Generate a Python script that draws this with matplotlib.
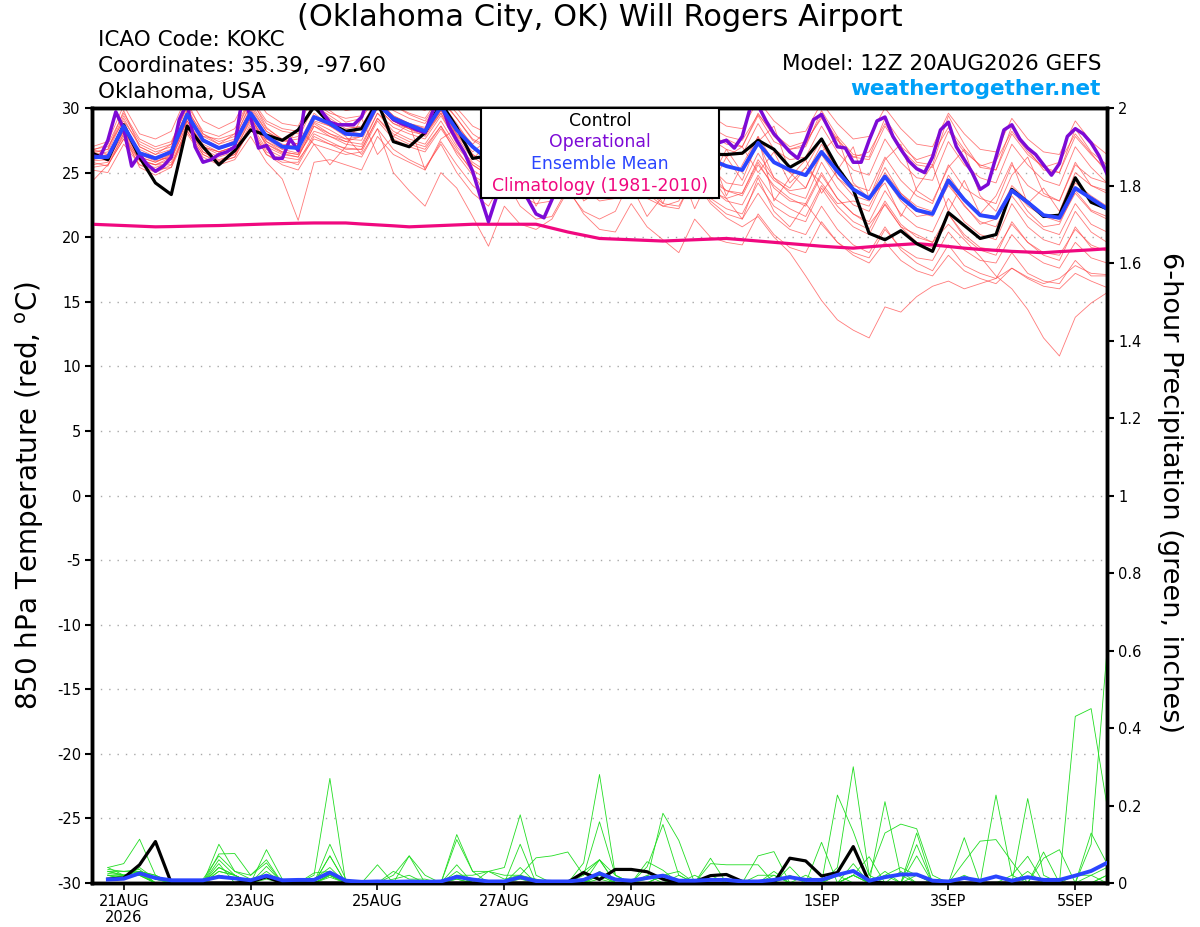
import numpy as np
import pandas as pd
import matplotlib
matplotlib.use("Agg")
import matplotlib.pyplot as plt
from matplotlib.patches import Rectangle

# ---------------- data ----------------
start = "2026-08-20 12:00"
n6 = 65
n3 = 129

tick_dates = ["2026-08-21", "2026-08-23", "2026-08-25", "2026-08-27",
              "2026-08-29", "2026-09-01", "2026-09-03", "2026-09-05"]
tick_labels = ["21AUG\n2026", "23AUG", "25AUG", "27AUG", "29AUG", "1SEP", "3SEP", "5SEP"]
temp_ticks = [-30, -25, -20, -15, -10, -5, 0, 5, 10, 15, 20, 25, 30]
precip_ticks = [0, 0.2, 0.4, 0.6, 0.8, 1.0, 1.2, 1.4, 1.6, 1.8, 2.0]
precip_tick_labels = ["0", "0.2", "0.4", "0.6", "0.8", "1", "1.2", "1.4", "1.6", "1.8", "2"]

control_temp = [26.5, 26.0, 28.7, 26.2, 24.2, 23.3, 28.6, 27.0, 25.6, 26.7, 28.3, 27.9,
                27.5, 28.3, 30.1, 28.8, 28.2, 28.4, 30.5, 27.4, 27.0, 28.1, 30.4, 28.5,
                26.1, 26.3, 27.0, 27.5, 26.8, 26.0, 27.2, 28.0, 27.1, 26.5, 27.6, 28.2,
                27.3, 26.8, 26.5, 26.4, 26.4, 26.5, 27.5, 26.8, 25.4, 26.1, 27.6, 25.4,
                23.7, 20.3, 19.8, 20.5, 19.5, 18.9, 21.9, 20.9, 19.9, 20.2, 23.7, 22.7,
                21.6, 21.7, 24.6, 22.7, 22.2]

mean_temp = [26.2, 26.2, 28.6, 26.5, 26.1, 26.6, 29.5, 27.5, 26.9, 27.3, 29.6, 27.8,
             27.0, 26.9, 29.3, 28.8, 28.0, 27.9, 30.3, 29.2, 28.7, 28.2, 30.1, 28.3,
             27.0, 26.0, 27.2, 25.9, 25.3, 25.6, 27.0, 25.8, 25.2, 25.5, 26.8, 25.7,
             25.4, 25.6, 26.9, 26.0, 25.5, 25.2, 27.3, 25.8, 25.2, 24.8, 26.6, 25.1,
             23.7, 23.0, 24.7, 23.1, 22.1, 21.8, 24.4, 22.9, 21.7, 21.5, 23.6, 22.7,
             21.7, 21.5, 23.8, 23.0, 22.2]

oper_temp = [26.3, 26.2, 27.5, 29.7, 28.4, 25.5, 26.4, 25.6, 25.1, 25.5, 26.2, 29.1,
             30.4, 27.0, 25.8, 26.0, 26.4, 26.6, 27.0, 31.0, 29.3, 26.9, 27.1, 26.1,
             26.1, 27.6, 26.7, 31.0, 31.5, 29.7, 28.9, 28.7, 28.7, 28.7, 29.3, 31.0,
             31.5, 29.8, 29.1, 28.8, 28.6, 28.3, 28.1, 29.8, 30.5, 28.6, 27.5, 26.5,
             25.1, 23.1, 21.2, 23.1, 24.8, 25.5, 24.0, 22.9, 21.8, 21.5, 22.9,
             24.5, 25.8, 27.0, 27.6, 26.8, 26.2, 25.8, 26.4, 27.8, 28.6, 28.0, 27.2,
             26.6, 26.2, 26.8, 28.0, 28.8, 28.2, 27.6, 27.2,
             27.3, 27.5, 26.9, 27.8, 30.0, 30.2, 29.0, 28.0, 27.3, 26.6, 26.1, 27.5,
             29.1, 29.5, 28.3, 27.0, 26.9, 25.8, 25.8, 27.5, 29.0, 29.3, 27.8, 26.8,
             25.9, 25.3, 25.0, 26.2, 28.3, 28.9, 27.0, 26.0, 25.0, 23.7, 24.1, 26.2,
             28.3, 28.7, 27.6, 26.9, 26.4, 25.6, 24.8, 25.7, 27.8, 28.4, 28.0, 27.3,
             26.3, 24.9]

clim_temp = [21.0, 20.95, 20.9, 20.85, 20.8, 20.82, 20.85, 20.88, 20.9, 20.94, 20.98, 21.02,
             21.05, 21.08, 21.1, 21.1, 21.1, 21.02, 20.95, 20.88, 20.8, 20.85, 20.9, 20.95,
             21.0, 21.0, 21.0, 21.0, 21.0, 20.7, 20.4, 20.15, 19.9, 19.85, 19.8, 19.75,
             19.7, 19.75, 19.8, 19.85, 19.9, 19.8, 19.7, 19.6, 19.5, 19.4, 19.3, 19.22,
             19.15, 19.25, 19.35, 19.42, 19.5, 19.4, 19.28, 19.15, 19.05, 18.98, 18.9, 18.85,
             18.8, 18.88, 18.95, 19.02, 19.1]

temp_m01 = [26.5, 26.8, 29.8, 27.0, 26.4, 27.2, 30.5, 28.0, 27.2, 28.0, 30.8, 28.5, 27.5, 27.8, 30.6, 29.8,
            28.9, 29.2, 31.0, 30.2, 29.5, 29.0, 30.8, 29.2, 27.5, 26.8, 28.5, 27.0, 26.2, 26.5, 29.0, 27.4,
            26.8, 27.5, 29.6, 28.0, 27.2, 27.8, 30.2, 28.5, 27.8, 27.5, 29.5, 28.0, 27.0, 27.4, 29.2, 27.5,
            26.2, 26.6, 28.8, 27.0, 26.0, 26.4, 28.5, 26.8, 25.5, 25.9, 28.2, 26.6, 25.4, 25.8, 28.0, 26.5, 25.0]
temp_m02 = [25.8, 25.5, 28.0, 25.9, 25.6, 26.0, 28.8, 27.0, 26.4, 26.8, 29.0, 27.2, 26.5, 26.2, 28.6, 27.8,
            27.2, 27.0, 29.6, 28.5, 28.0, 27.6, 29.4, 27.4, 25.6, 24.8, 27.0, 25.2, 24.2, 24.6, 27.4, 25.6,
            24.8, 25.2, 27.8, 25.8, 24.6, 24.9, 27.5, 25.4, 24.2, 24.0, 26.5, 24.6, 23.4, 23.0, 25.8, 23.8,
            22.5, 22.0, 24.6, 22.8, 21.6, 21.8, 24.0, 22.5, 21.0, 21.4, 23.8, 22.0, 20.8, 21.0, 23.6, 22.1, 21.6]
temp_m03 = [26.0, 26.4, 28.4, 26.2, 25.8, 26.3, 29.0, 27.2, 26.6, 27.0, 29.4, 27.6, 26.8, 26.5, 28.9, 28.3,
            27.6, 27.5, 30.0, 28.8, 28.2, 27.9, 29.8, 27.9, 26.4, 25.6, 27.8, 25.9, 25.0, 25.2, 27.9, 26.0,
            25.2, 25.0, 27.2, 25.4, 24.5, 24.0, 26.4, 24.8, 23.6, 23.2, 25.6, 24.0, 23.0, 22.4, 24.8, 23.0,
            21.8, 21.0, 22.5, 20.8, 20.2, 19.6, 21.0, 19.8, 18.5, 17.0, 16.0, 14.4, 12.2, 10.8, 13.8, 14.9, 15.7]
temp_m04 = [26.3, 25.9, 28.2, 26.8, 26.2, 26.0, 29.2, 27.4, 26.9, 27.5, 29.9, 27.9, 27.2, 27.0, 29.0, 28.6,
            28.1, 28.3, 30.6, 29.4, 28.8, 28.5, 30.4, 28.8, 27.0, 26.2, 28.2, 26.2, 25.4, 25.8, 27.0, 25.0,
            24.2, 23.8, 26.0, 24.2, 23.2, 23.0, 24.4, 22.6, 21.5, 20.8, 21.6, 20.0, 18.8, 17.0, 15.1, 13.6,
            12.8, 12.2, 14.6, 14.2, 15.4, 16.2, 16.6, 16.0, 16.4, 16.8, 17.6, 16.9, 16.4, 16.8, 17.8, 17.2, 17.1]
temp_m05 = [25.2, 25.0, 27.2, 25.6, 25.4, 25.8, 28.4, 26.6, 25.9, 26.4, 28.8, 26.8, 26.2, 26.0, 27.6, 27.2,
            26.9, 26.8, 29.2, 28.0, 27.4, 27.0, 28.6, 26.8, 25.0, 23.0, 26.8, 25.2, 22.4, 24.6, 26.2, 22.8,
            23.6, 25.8, 24.0, 21.6, 23.2, 25.4, 22.2, 24.8, 23.0, 21.4, 24.6, 22.0, 20.8, 22.6, 21.0, 19.6,
            18.6, 18.0, 19.6, 18.2, 17.4, 17.0, 18.6, 17.4, 16.8, 16.4, 17.6, 16.8, 16.2, 16.0, 17.2, 16.6, 16.1]
temp_m06 = [24.3, 25.6, 27.6, 25.9, 25.2, 25.4, 28.0, 26.2, 25.6, 26.0, 27.8, 25.8, 24.5, 21.3, 25.8, 26.0,
            25.6, 25.2, 27.8, 26.4, 25.8, 25.2, 27.4, 25.6, 24.0, 23.0, 25.0, 23.2, 22.6, 22.8, 25.2, 23.6,
            23.0, 23.4, 26.0, 24.2, 23.6, 23.2, 25.6, 23.8, 22.8, 22.5, 24.8, 23.0, 22.2, 21.6, 24.0, 22.4,
            21.2, 20.6, 22.8, 21.0, 20.0, 19.6, 21.8, 20.2, 19.2, 19.0, 21.0, 19.6, 18.8, 18.6, 20.6, 19.4, 18.9]
temp_m07 = [26.8, 27.0, 29.0, 27.2, 26.6, 27.0, 29.8, 28.0, 27.4, 27.8, 30.2, 28.2, 27.5, 27.2, 29.6, 28.6,
            27.8, 26.4, 28.4, 25.0, 23.6, 22.4, 25.0, 23.8, 21.6, 19.3, 22.4, 21.0, 20.6, 21.4, 23.6, 22.0,
            21.4, 22.0, 24.6, 23.0, 22.4, 22.8, 25.2, 23.6, 23.0, 23.4, 26.0, 24.4, 23.6, 23.8, 26.4, 24.6,
            23.2, 22.8, 25.0, 23.4, 22.4, 22.0, 24.2, 22.8, 21.8, 21.6, 23.8, 22.4, 21.6, 21.2, 23.4, 22.0, 21.4]
temp_m08 = [27.0, 27.4, 30.2, 28.0, 27.6, 28.2, 31.0, 29.0, 28.4, 29.0, 31.4, 29.6, 28.8, 28.6, 31.0, 30.4,
            29.8, 30.0, 31.6, 30.8, 30.2, 29.8, 31.4, 30.0, 28.6, 28.0, 30.2, 28.2, 27.6, 28.0, 30.4, 28.8,
            28.0, 28.4, 30.8, 29.2, 28.4, 28.6, 31.0, 29.4, 28.6, 28.4, 30.6, 29.0, 28.0, 28.2, 30.4, 28.8,
            27.6, 27.8, 30.0, 28.4, 27.2, 27.0, 29.6, 28.0, 26.8, 26.6, 29.2, 27.6, 26.6, 26.4, 29.0, 27.4, 26.4]
temp_m09 = [26.0, 26.2, 28.8, 26.4, 26.0, 26.4, 29.4, 27.4, 26.8, 27.2, 29.8, 27.6, 27.0, 26.8, 29.4, 28.8,
            28.2, 28.0, 30.4, 29.2, 28.6, 28.2, 30.0, 28.0, 26.6, 27.6, 25.0, 26.4, 28.6, 24.4, 25.8, 27.0,
            24.2, 26.8, 28.2, 25.0, 24.6, 27.4, 26.0, 23.8, 26.2, 27.0, 25.0, 26.6, 24.2, 25.4, 27.6, 24.6,
            23.6, 23.0, 25.4, 23.4, 22.2, 21.8, 24.8, 23.0, 21.8, 21.4, 24.0, 22.8, 21.6, 21.4, 24.2, 23.2, 22.4]
temp_m10 = [26.6, 26.0, 28.0, 25.4, 24.8, 25.4, 28.6, 26.8, 26.2, 26.6, 29.2, 27.4, 26.6, 26.4, 28.2, 27.8,
            27.4, 27.8, 30.2, 29.0, 28.4, 28.0, 29.6, 27.2, 25.8, 25.0, 27.2, 24.8, 23.8, 24.4, 26.8, 24.6,
            23.8, 24.2, 26.8, 24.8, 22.6, 25.8, 24.0, 26.6, 23.2, 25.6, 27.8, 22.8, 24.6, 26.0, 23.4, 25.2,
            27.0, 23.0, 24.2, 21.6, 23.8, 25.6, 22.0, 24.4, 21.8, 23.2, 25.8, 22.6, 23.8, 22.0, 25.0, 24.0, 23.4]
temp_m11 = [26.4, 26.6, 29.2, 27.0, 26.4, 26.8, 29.6, 27.6, 27.0, 27.4, 30.0, 28.2, 27.4, 27.6, 30.2, 29.2,
            28.4, 28.6, 30.8, 29.8, 29.2, 28.8, 30.6, 29.2, 27.6, 27.0, 29.2, 27.4, 26.6, 27.0, 29.4, 27.6,
            26.8, 27.0, 29.6, 27.8, 26.8, 27.0, 29.8, 28.0, 27.2, 27.0, 29.6, 27.8, 26.8, 27.2, 29.4, 27.6,
            26.2, 26.0, 28.6, 26.8, 25.6, 25.4, 28.2, 26.6, 25.6, 25.2, 28.0, 26.4, 25.4, 25.0, 27.8, 26.4, 25.2]
temp_m12 = [25.6, 25.8, 27.8, 26.0, 25.6, 25.6, 28.2, 26.4, 25.8, 26.2, 28.6, 26.6, 26.0, 25.6, 27.8, 27.2,
            26.6, 26.2, 28.4, 26.8, 26.0, 25.4, 27.2, 25.0, 23.4, 22.4, 24.6, 22.4, 21.4, 21.6, 23.8, 21.8,
            20.6, 20.4, 22.6, 20.8, 19.8, 18.8, 21.4, 20.0, 19.6, 19.4, 21.8, 20.2, 19.2, 18.8, 21.2, 19.6,
            18.8, 18.4, 20.6, 19.2, 18.4, 18.2, 20.4, 19.0, 18.2, 18.0, 20.2, 18.8, 18.0, 17.6, 19.6, 18.4, 18.0]
temp_m13 = [26.2, 26.4, 28.6, 26.6, 26.2, 26.6, 29.0, 27.0, 26.6, 27.0, 29.6, 27.4, 26.8, 28.4, 27.2, 25.6,
            27.0, 29.2, 26.4, 27.8, 28.8, 25.2, 27.6, 28.4, 26.2, 25.4, 27.4, 25.4, 24.6, 24.8, 27.2, 25.2,
            24.4, 24.6, 27.0, 25.0, 24.2, 24.0, 26.4, 24.4, 23.6, 23.4, 25.8, 23.8, 22.8, 22.6, 25.0, 23.0,
            21.8, 21.2, 23.6, 21.8, 20.8, 20.4, 23.0, 21.2, 20.2, 19.8, 22.6, 20.8, 19.8, 19.4, 22.0, 20.4, 19.6]
temp_m14 = [26.8, 26.4, 28.2, 26.0, 25.6, 26.2, 29.2, 27.8, 27.6, 28.0, 30.6, 28.8, 28.2, 28.0, 30.4, 29.6,
            29.2, 29.4, 31.2, 30.2, 29.6, 29.2, 31.0, 29.6, 28.0, 27.2, 29.4, 27.2, 26.4, 26.6, 28.8, 26.8,
            26.0, 26.4, 28.8, 27.0, 26.2, 26.6, 29.4, 27.6, 26.8, 26.4, 28.8, 26.8, 26.0, 26.2, 28.6, 26.6,
            25.2, 24.8, 27.6, 25.8, 24.6, 24.4, 27.4, 25.6, 24.6, 24.2, 27.2, 25.6, 24.4, 24.0, 27.0, 25.4, 24.2]
temp_m15 = [25.9, 26.0, 28.4, 26.4, 25.9, 26.2, 28.6, 26.6, 26.0, 26.4, 28.4, 26.4, 25.6, 25.2, 27.2, 26.8,
            26.4, 26.6, 29.0, 27.6, 27.0, 26.6, 28.4, 26.6, 25.2, 24.4, 26.4, 24.6, 24.0, 24.6, 27.0, 25.2,
            24.6, 25.0, 27.6, 25.8, 25.0, 25.2, 28.0, 26.2, 25.6, 25.2, 27.8, 25.8, 25.0, 24.8, 27.2, 25.2,
            24.0, 23.6, 26.2, 24.4, 23.2, 22.6, 25.6, 23.8, 23.0, 22.6, 25.6, 24.0, 23.2, 22.8, 25.8, 24.0, 23.6]
temp_m16 = [26.6, 26.8, 29.4, 27.4, 26.8, 27.2, 30.2, 28.2, 27.8, 28.4, 30.8, 29.0, 28.4, 28.2, 30.2, 29.4,
            28.6, 28.4, 30.6, 29.4, 28.8, 28.4, 30.2, 28.6, 27.2, 28.4, 26.0, 27.8, 29.6, 26.6, 25.4, 28.0,
            27.0, 24.8, 26.6, 28.4, 25.2, 27.2, 26.0, 24.4, 26.8, 25.0, 27.4, 24.6, 23.8, 25.4, 24.2, 22.6,
            22.8, 22.4, 24.8, 23.0, 22.0, 21.6, 24.2, 22.4, 21.2, 20.8, 23.2, 21.6, 20.6, 20.2, 22.6, 21.0, 20.4]
temp_m17 = [26.1, 26.3, 28.2, 26.2, 25.8, 26.4, 29.0, 27.0, 26.6, 27.0, 29.2, 27.2, 26.6, 26.4, 28.8, 28.0,
            27.4, 27.2, 29.6, 28.2, 27.6, 27.2, 29.0, 27.0, 25.6, 24.8, 26.8, 24.8, 23.6, 23.8, 26.0, 24.0,
            23.2, 23.4, 25.6, 23.6, 22.6, 22.4, 24.6, 22.8, 21.8, 21.4, 23.4, 21.6, 20.6, 20.2, 22.4, 20.6,
            19.4, 18.8, 20.8, 19.0, 18.0, 17.4, 19.4, 17.8, 17.2, 16.8, 18.8, 17.2, 16.6, 16.4, 18.2, 17.0, 17.0]
temp_m18 = [26.4, 26.0, 28.8, 26.6, 26.0, 26.8, 29.8, 27.6, 27.0, 27.2, 29.4, 27.0, 26.4, 26.2, 28.6, 28.0,
            27.6, 27.8, 30.2, 29.0, 28.4, 28.0, 29.8, 28.0, 26.4, 25.6, 27.8, 25.8, 25.0, 25.4, 28.0, 26.2,
            25.6, 26.0, 28.6, 26.8, 26.0, 26.2, 28.8, 27.0, 26.2, 24.4, 27.4, 28.6, 25.0, 23.8, 26.6, 27.8,
            24.2, 23.0, 26.0, 27.2, 23.6, 22.8, 25.4, 26.8, 23.2, 22.0, 24.8, 26.2, 23.4, 22.8, 25.6, 24.6, 24.2]
temp_m19 = [25.4, 25.6, 27.6, 25.6, 25.0, 25.6, 28.2, 26.4, 25.8, 26.2, 28.4, 26.4, 25.8, 25.8, 28.0, 27.4,
            26.8, 26.8, 29.2, 27.8, 27.2, 26.8, 28.6, 26.4, 24.8, 24.0, 26.2, 24.2, 23.2, 23.6, 25.8, 23.8,
            22.8, 23.0, 25.4, 23.4, 22.4, 22.2, 24.8, 23.0, 22.2, 21.8, 24.2, 22.4, 21.6, 21.2, 23.8, 22.0,
            20.8, 20.2, 22.6, 20.8, 19.6, 19.2, 21.8, 20.0, 19.0, 18.6, 21.2, 19.6, 18.6, 18.2, 20.8, 19.2, 19.0]
temp_m20 = [26.7, 27.2, 29.6, 27.6, 27.0, 27.4, 30.0, 27.8, 27.2, 27.6, 30.4, 28.4, 27.6, 27.2, 29.2, 28.6,
            28.0, 27.8, 30.0, 28.8, 28.4, 27.8, 29.6, 27.8, 26.0, 27.4, 25.0, 28.2, 26.8, 24.6, 27.8, 29.2,
            26.4, 28.0, 30.2, 27.0, 26.2, 28.6, 29.8, 27.2, 27.6, 27.0, 29.4, 27.4, 26.8, 27.0, 29.8, 27.8,
            26.4, 26.2, 29.2, 27.4, 25.8, 25.6, 29.4, 27.2, 25.4, 25.2, 28.6, 26.8, 25.2, 25.0, 28.4, 26.6, 25.6]

# 6-hour precipitation, valid at steps 1..64
control_precip = [0.01, 0.013, 0.047, 0.107, 0, 0, 0, 0, 0, 0.003, 0.016, 0, 0, 0, 0, 0,
                  0, 0, 0, 0, 0, 0, 0, 0, 0, 0, 0, 0, 0, 0.002, 0.027, 0.009,
                  0.035, 0.035, 0.029, 0.01, 0, 0.003, 0.019, 0.022, 0.004, 0, 0, 0.064, 0.057, 0.018, 0.027, 0.094,
                  0.003, 0, 0, 0, 0, 0, 0, 0, 0, 0, 0, 0, 0, 0, 0, 0]
mean_precip = [0.009, 0.011, 0.025, 0.013, 0.007, 0.007, 0.007, 0.016, 0.012, 0.007, 0.019, 0.007, 0.008, 0.008, 0.027, 0.006,
               0.003, 0.004, 0.003, 0.004, 0.003, 0.004, 0.016, 0.009, 0.004, 0.004, 0.015, 0.005, 0.004, 0.004, 0.008, 0.025,
               0.009, 0.006, 0.013, 0.019, 0.006, 0.006, 0.008, 0.008, 0.004, 0.004, 0.008, 0.015, 0.008, 0.008, 0.021, 0.031,
               0.006, 0.015, 0.022, 0.022, 0.006, 0.004, 0.013, 0.006, 0.017, 0.006, 0.015, 0.008, 0.008, 0.019, 0.031, 0.052]

precip_m01 = [0.03, 0.02, 0.03, 0.01, 0, 0, 0, 0.10, 0.03, 0.01, 0.02, 0, 0, 0.02, 0.27, 0,
              0, 0, 0, 0, 0, 0, 0.01, 0, 0, 0, 0.02, 0, 0, 0, 0, 0.02,
              0, 0, 0.01, 0.18, 0.11, 0, 0, 0, 0, 0, 0, 0, 0, 0, 0.04, 0.30,
              0.02, 0, 0, 0, 0, 0, 0, 0, 0.227, 0.02, 0, 0, 0, 0.43, 0.45, 0.20]
precip_m02 = [0.04, 0.05, 0.113, 0.02, 0, 0, 0, 0.02, 0.01, 0, 0.086, 0.01, 0, 0, 0.10, 0.01,
              0, 0.047, 0, 0, 0, 0, 0.125, 0.03, 0, 0, 0.10, 0, 0, 0, 0.052, 0.28,
              0.02, 0, 0.055, 0.033, 0, 0, 0.064, 0, 0, 0, 0.02, 0, 0, 0.105, 0, 0,
              0, 0.21, 0.02, 0, 0, 0, 0, 0, 0, 0.02, 0.069, 0, 0, 0, 0.10, 0.60]
precip_m03 = [0.02, 0.01, 0.04, 0.01, 0, 0, 0, 0.075, 0.076, 0.02, 0.06, 0, 0, 0, 0.07, 0,
              0, 0, 0, 0.07, 0.02, 0, 0.112, 0.03, 0.03, 0.04, 0.176, 0.02, 0, 0, 0, 0.06,
              0.02, 0, 0.042, 0.151, 0.02, 0, 0, 0, 0, 0, 0, 0, 0, 0, 0.227, 0.133,
              0.02, 0.129, 0.152, 0.14, 0.02, 0, 0, 0, 0, 0, 0.218, 0.02, 0, 0, 0.129, 0.05]
precip_m04 = [0.035, 0.03, 0.03, 0.02, 0, 0, 0.01, 0.07, 0.03, 0.02, 0.052, 0, 0, 0.01, 0.02, 0,
              0, 0, 0.03, 0.01, 0.01, 0, 0.047, 0, 0.03, 0.01, 0.02, 0.065, 0.07, 0.08, 0.02, 0.158,
              0.02, 0, 0, 0, 0.02, 0, 0.05, 0.047, 0.047, 0.047, 0, 0.042, 0, 0, 0, 0.02,
              0.068, 0, 0, 0.129, 0, 0, 0.055, 0.108, 0.112, 0.055, 0, 0.064, 0.086, 0, 0, 0.02]
precip_m05 = [0.02, 0.02, 0.02, 0, 0, 0, 0, 0.06, 0.02, 0, 0.043, 0, 0, 0, 0.07, 0,
              0, 0, 0.02, 0.07, 0, 0, 0.02, 0, 0, 0, 0, 0, 0, 0, 0.02, 0.06,
              0, 0, 0.02, 0, 0, 0, 0, 0, 0, 0.07, 0.081, 0, 0, 0, 0, 0,
              0, 0, 0, 0.099, 0, 0, 0.117, 0, 0, 0, 0, 0.08, 0, 0, 0, 0.02]
precip_m06 = [0.02, 0.01, 0.03, 0, 0, 0, 0, 0.02, 0.01, 0, 0.02, 0, 0, 0.026, 0.03, 0,
              0, 0, 0, 0, 0, 0, 0.02, 0.02, 0.03, 0.02, 0.02, 0.01, 0, 0, 0, 0.02,
              0.01, 0, 0, 0.02, 0, 0, 0, 0, 0, 0, 0.03, 0, 0, 0, 0, 0.02,
              0, 0.02, 0, 0, 0, 0, 0, 0, 0, 0, 0, 0, 0, 0, 0, 0]
precip_m07 = [0.01, 0.02, 0.02, 0, 0, 0, 0, 0.04, 0.02, 0, 0.03, 0, 0, 0.01, 0.04, 0,
              0, 0, 0, 0, 0, 0, 0.01, 0, 0, 0, 0.01, 0, 0, 0, 0.03, 0.06,
              0, 0, 0, 0.02, 0.03, 0, 0.02, 0, 0, 0, 0, 0, 0.02, 0, 0, 0.02,
              0, 0, 0.03, 0, 0, 0, 0.02, 0, 0.02, 0, 0.03, 0, 0, 0.02, 0.02, 0.04]
precip_m08 = [0.03, 0.03, 0.035, 0, 0, 0, 0, 0.03, 0.02, 0, 0.02, 0, 0, 0, 0.02, 0,
              0, 0, 0, 0, 0, 0, 0.03, 0, 0, 0, 0.04, 0, 0, 0, 0, 0.03,
              0, 0, 0, 0, 0, 0, 0, 0, 0, 0, 0, 0.02, 0, 0, 0, 0.05,
              0, 0.02, 0.04, 0.02, 0, 0, 0, 0, 0, 0, 0, 0, 0, 0, 0, 0]
precip_m09 = [0.02, 0.015, 0.02, 0, 0, 0, 0, 0.02, 0.01, 0, 0.01, 0, 0, 0, 0.02, 0,
              0, 0, 0, 0, 0, 0, 0, 0, 0, 0, 0, 0, 0, 0, 0, 0,
              0, 0, 0, 0, 0, 0, 0, 0, 0, 0, 0, 0, 0, 0, 0, 0,
              0, 0, 0, 0.07, 0, 0, 0, 0, 0, 0, 0, 0, 0, 0, 0, 0]
precip_m10 = [0.025, 0.02, 0.025, 0, 0, 0, 0, 0.05, 0, 0, 0.02, 0, 0, 0, 0.02, 0,
              0, 0, 0.01, 0.02, 0, 0, 0, 0, 0, 0, 0, 0, 0, 0, 0, 0,
              0, 0, 0, 0, 0, 0.02, 0, 0, 0, 0, 0, 0, 0, 0, 0.02, 0.03,
              0, 0, 0, 0.02, 0, 0, 0, 0, 0, 0, 0, 0, 0, 0, 0.02, 0]
precip_m11 = [0.03, 0.02, 0.03, 0.02, 0, 0, 0, 0.03, 0.02, 0, 0.02, 0, 0, 0, 0.02, 0,
              0, 0, 0, 0, 0, 0, 0.02, 0.01, 0, 0, 0, 0, 0, 0, 0.01, 0.02,
              0, 0, 0, 0.02, 0, 0, 0, 0, 0, 0.02, 0.02, 0, 0, 0, 0.02, 0,
              0, 0.03, 0, 0, 0, 0, 0, 0, 0, 0, 0, 0, 0, 0, 0, 0]
precip_m12 = [0.04, 0.02, 0.02, 0, 0, 0, 0, 0.04, 0.02, 0, 0.015, 0, 0, 0, 0.015, 0,
              0, 0, 0, 0, 0, 0, 0.02, 0, 0, 0, 0, 0, 0, 0, 0, 0.01,
              0, 0, 0, 0, 0, 0, 0, 0, 0, 0, 0, 0, 0, 0, 0, 0.02,
              0, 0, 0, 0, 0, 0, 0, 0, 0, 0, 0, 0, 0, 0, 0, 0]

temp_members = [temp_m01, temp_m02, temp_m03, temp_m04, temp_m05, temp_m06, temp_m07,
                temp_m08, temp_m09, temp_m10, temp_m11, temp_m12, temp_m13, temp_m14,
                temp_m15, temp_m16, temp_m17, temp_m18, temp_m19, temp_m20]
precip_members = [precip_m01, precip_m02, precip_m03, precip_m04, precip_m05, precip_m06,
                  precip_m07, precip_m08, precip_m09, precip_m10, precip_m11, precip_m12]

# ---------------- plot ----------------
times6 = pd.date_range(start, periods=n6, freq="6h")
times3 = pd.date_range(start, periods=n3, freq="3h")
ptimes = times6[1:]

W, H = 1200, 927
fig = plt.figure(figsize=(W / 100, H / 100), dpi=100)
L, R, T, B = 92, 1107, 108, 883
ax = fig.add_axes([L / W, 1 - B / H, (R - L) / W, (B - T) / H])
ax2 = ax.twinx()

RED = "#ff4646"
GREEN = "#22dd22"
for m in temp_members:
    ax.plot(times6, m, color=RED, lw=0.6, alpha=0.72, zorder=2)
ax.plot(times6, clim_temp, color="#f0087f", lw=2.3, zorder=3)
ax.plot(times6, control_temp, color="black", lw=2.3, zorder=4)
ax.plot(times3, oper_temp, color="#7d0ad6", lw=2.5, zorder=5)
ax.plot(times6, mean_temp, color="#2a45ff", lw=2.8, zorder=6)

for m in precip_members:
    ax2.plot(ptimes, m, color=GREEN, lw=0.6, zorder=2)
ax2.plot(ptimes, control_precip, color="black", lw=2.3, zorder=4)
ax2.plot(ptimes, mean_precip, color="#2a45ff", lw=2.8, zorder=5)

ax.set_xlim(times6[0], times6[-1])
ax.set_ylim(-30, 30)
ax2.set_ylim(0, 2)

ax.set_yticks(temp_ticks)
ax.set_yticklabels([str(t) for t in temp_ticks])
ax2.set_yticks(precip_ticks)
ax2.set_yticklabels(precip_tick_labels)
ax.set_xticks(pd.to_datetime(tick_dates))
ax.set_xticklabels(tick_labels, linespacing=1.1)

for a in (ax, ax2):
    for s in a.spines.values():
        s.set_linewidth(2.5)
        s.set_color("black")
ax.tick_params(axis="y", direction="out", length=5, width=1.5, labelsize=10.5, pad=3)
ax.tick_params(axis="x", direction="out", length=5, width=1.2, labelsize=10.5, pad=3)
ax2.tick_params(axis="y", direction="out", length=5, width=1.5, labelsize=10.5, pad=3)

ax.grid(axis="y", linestyle=(0, (1, 5)), color="#a8a8a8", lw=1.0)
ax.set_axisbelow(True)

# legend box
lx0 = (481 - L) / (R - L)
lx1 = (719 - L) / (R - L)
ly0 = (B - 198) / (B - T)
ax2.add_patch(Rectangle((lx0, ly0), lx1 - lx0, 1 - ly0, transform=ax2.transAxes,
                        facecolor="white", edgecolor="black", lw=1.5, zorder=20, clip_on=False))
leg_items = [("Control", "black", 121), ("Operational", "#7d0ad6", 142),
             ("Ensemble Mean", "#2a45ff", 164), ("Climatology (1981-2010)", "#f0087f", 186)]
for txt, col, yp in leg_items:
    ax2.text((lx0 + lx1) / 2, (B - yp) / (B - T), txt, color=col, fontsize=12.4,
             ha="center", va="center", transform=ax2.transAxes, zorder=21)

# header texts
fig.text(0.5, 1 - 18 / H, "(Oklahoma City, OK) Will Rogers Airport", ha="center", va="center", fontsize=22)
fig.text(98 / W, 1 - 40 / H, "ICAO Code: KOKC", ha="left", va="center", fontsize=15.5)
fig.text(98 / W, 1 - 66 / H, "Coordinates: 35.39, -97.60", ha="left", va="center", fontsize=15.5)
fig.text(98 / W, 1 - 92 / H, "Oklahoma, USA", ha="left", va="center", fontsize=15.5)
fig.text(1101 / W, 1 - 64 / H, "Model: 12Z 20AUG2026 GEFS", ha="right", va="center", fontsize=15.5)
fig.text(1101 / W, 1 - 89 / H, "weathertogether.net", ha="right", va="center", fontsize=15.5,
         fontweight="bold", color="#00a0f8")

fig.text(30 / W, 1 - 495 / H, r"850 hPa Temperature (red, $^{\rm o}$C)", rotation=90,
         ha="center", va="center", fontsize=20)
fig.text(1170 / W, 1 - 493 / H, "6-hour Precipitation (green, inches)", rotation=-90,
         ha="center", va="center", fontsize=19.5)

fig.savefig("out.png", dpi=100)
